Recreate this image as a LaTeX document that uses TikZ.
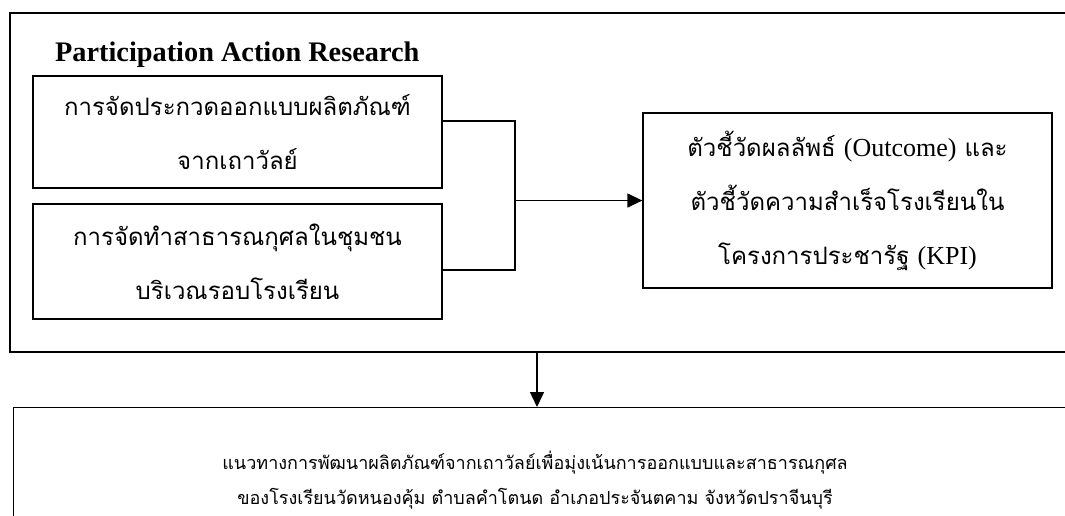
\documentclass[tikz,border=0pt]{standalone}
\usepackage{fontspec}
\setmainfont{Liberation Serif}
\newfontfamily\thai[Script=Thai]{Loma}
\usetikzlibrary{arrows.meta}
\tikzset{
  ln/.style={line width=1.3pt, draw=black},
  box/.style={ln, rectangle, inner sep=0pt, align=center},
  arr/.style={ln, -{Triangle[length=15pt,width=14pt]}},
}
\begin{document}
\begin{tikzpicture}[x=1pt,y=-1pt]
\useasboundingbox (0,0) rectangle (1065,515);
\clip (0,0) rectangle (1065,515);
\fill[white] (0,0) rectangle (1065,515);
% outer frame
\node[box, minimum width=1070pt, minimum height=339pt] (outer) at (545,182.5) {};
\node[font=\bfseries\fontsize{28.3}{32}\selectfont, anchor=base west, inner sep=0pt] (title) at (55,61) {Participation Action Research};
\node[box, minimum width=409pt, minimum height=112pt, font=\thai\fontsize{24}{54}\selectfont] (b1) at (237.5,132)
  {การจัดประกวดออกแบบผลิตภัณฑ์\\จากเถาวัลย์};
\node[box, minimum width=409pt, minimum height=115pt, font=\thai\fontsize{24}{54}\selectfont] (b2) at (237.5,261.5)
  {การจัดทำสาธารณกุศลในชุมชน\\บริเวณรอบโรงเรียน};
\node[box, minimum width=409pt, minimum height=175pt, font=\thai\fontsize{24}{54}\selectfont] (kpi) at (847.5,200.5)
  {ตัวชี้วัดผลลัพธ์ {\rmfamily\fontsize{26}{54}\selectfont(Outcome)} และ\\ตัวชี้วัดความสำเร็จโรงเรียนใน\\โครงการประชารัฐ {\rmfamily\fontsize{26}{54}\selectfont(KPI)}};
\node[box, minimum width=1070pt, minimum height=130pt, anchor=north west] (res) at (13,407) {};
\node[font=\thai\fontsize{18}{35}\selectfont, align=center, inner sep=0pt] (restext) at (535,480)
  {แนวทางการพัฒนาผลิตภัณฑ์จากเถาวัลย์เพื่อมุ่งเน้นการออกแบบและสาธารณกุศล\\ของโรงเรียนวัดหนองคุ้ม ตำบลคำโตนด อำเภอประจันตคาม จังหวัดปราจีนบุรี};
% connectors
\coordinate (jx) at (515,0);
\coordinate (dn) at (537,0);
\draw[ln] ([yshift=11pt]b1.east) -| (jx |- kpi.west);
\draw[ln] ([yshift=-8.5pt]b2.east) -| (jx |- kpi.west);
\draw[arr] (jx |- kpi.west) -- (kpi.west);
\draw[arr] (dn |- outer.south) -- (dn |- res.north);
\end{tikzpicture}
\end{document}
